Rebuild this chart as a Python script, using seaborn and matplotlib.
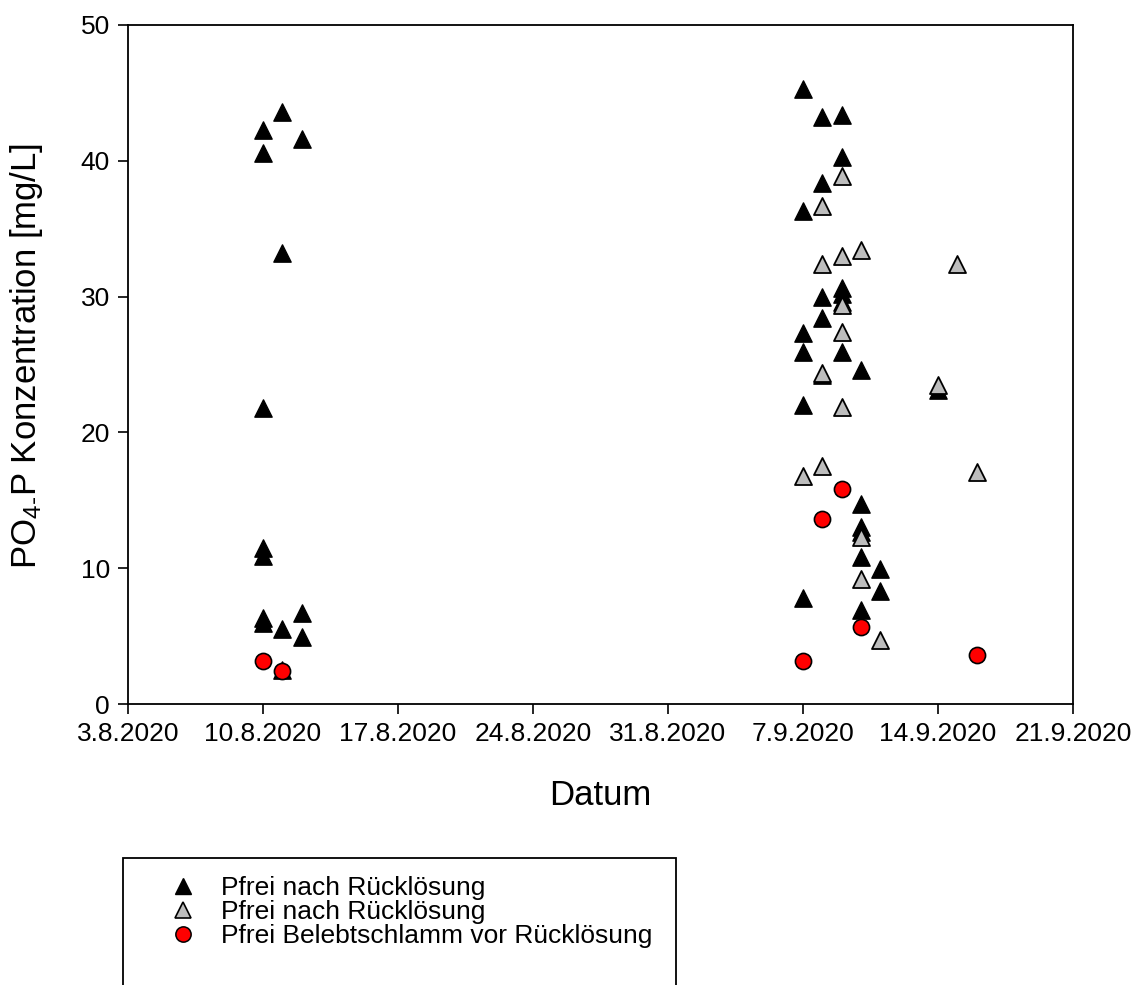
import matplotlib
matplotlib.use("Agg")
import matplotlib.pyplot as plt
from matplotlib.lines import Line2D
from matplotlib.patches import Rectangle
import pandas as pd
import seaborn as sns

# --- data -------------------------------------------------------------
black_dates = (["2020-08-10"] * 7 + ["2020-08-11"] * 4 + ["2020-08-12"] * 3 +
               ["2020-09-07"] * 6 + ["2020-09-08"] * 5 + ["2020-09-09"] * 6 +
               ["2020-09-10"] * 6 + ["2020-09-11"] * 2 + ["2020-09-14"])
black_values = [42.3, 40.6, 21.8, 11.5, 10.9, 6.3, 6.0,
                43.6, 33.2, 5.5, 2.5,
                41.6, 6.7, 4.9,
                45.3, 36.3, 27.3, 25.9, 22.0, 7.8,
                43.2, 38.4, 30.0, 28.4, 24.2,
                43.4, 40.3, 30.6, 30.2, 29.6, 25.9,
                24.6, 14.7, 13.0, 12.7, 10.8, 6.9,
                9.95, 8.3,
                23.1]

gray_dates = (["2020-09-07"] + ["2020-09-08"] * 4 + ["2020-09-09"] * 5 +
              ["2020-09-10"] * 3 + ["2020-09-11", "2020-09-14",
                                    "2020-09-15", "2020-09-16"])
gray_values = [16.8,
               36.7, 32.4, 24.4, 17.5,
               38.9, 33.0, 29.4, 27.4, 21.9,
               33.4, 12.3, 9.2,
               4.7, 23.5, 32.4, 17.1]

red_dates = ["2020-08-10", "2020-08-11", "2020-09-07", "2020-09-08",
             "2020-09-09", "2020-09-10", "2020-09-16"]
red_values = [3.2, 2.4, 3.2, 13.6, 15.8, 5.7, 3.6]

series_labels = ["Pfrei nach Rücklösung",
                 "Pfrei nach Rücklösung",
                 "Pfrei Belebtschlamm vor Rücklösung"]

tick_dates = ["2020-08-03", "2020-08-10", "2020-08-17", "2020-08-24",
              "2020-08-31", "2020-09-07", "2020-09-14", "2020-09-21"]
tick_labels = ["3.8.2020", "10.8.2020", "17.8.2020", "24.8.2020",
               "31.8.2020", "7.9.2020", "14.9.2020", "21.9.2020"]
y_ticks = [0, 10, 20, 30, 40, 50]

# --- style ------------------------------------------------------------
sns.set_style("ticks")
plt.rcParams["font.family"] = ["Liberation Sans", "DejaVu Sans"]
plt.rcParams["mathtext.fontset"] = "custom"
plt.rcParams["mathtext.rm"] = "Liberation Sans"
plt.rcParams["mathtext.it"] = "Liberation Sans:italic"
plt.rcParams["mathtext.bf"] = "Liberation Sans:bold"
plt.rcParams["text.color"] = "black"
plt.rcParams["axes.labelcolor"] = "black"

W, H = 1133, 985
fig = plt.figure(figsize=(W / 100, H / 100), dpi=100)
fig.patch.set_facecolor("white")

ax_l, ax_r, ax_t, ax_b = 128, 1073, 25, 704
ax = fig.add_axes([ax_l / W, (H - ax_b) / H, (ax_r - ax_l) / W, (ax_b - ax_t) / H])

black_df = pd.DataFrame({"Datum": pd.to_datetime(black_dates), "Wert": black_values})
gray_df = pd.DataFrame({"Datum": pd.to_datetime(gray_dates), "Wert": gray_values})
red_df = pd.DataFrame({"Datum": pd.to_datetime(red_dates), "Wert": red_values})

sns.scatterplot(data=black_df, x="Datum", y="Wert", marker="^", s=155,
                color="black", edgecolor="black", linewidth=1.0, ax=ax, zorder=3)
sns.scatterplot(data=gray_df, x="Datum", y="Wert", marker="^", s=150,
                color="#bdbdbd", edgecolor="black", linewidth=1.3, ax=ax, zorder=4)
sns.scatterplot(data=red_df, x="Datum", y="Wert", marker="o", s=135,
                color="#ff0000", edgecolor="black", linewidth=1.2, ax=ax, zorder=5)

# --- axes ---------------------------------------------------------------
tick_pos = pd.to_datetime(tick_dates)
ax.set_xlim(tick_pos[0], tick_pos[-1])
ax.set_xticks(tick_pos)
ax.set_xticklabels(tick_labels)
ax.set_ylim(0, 50)
ax.set_yticks(y_ticks)

for side in ["left", "right", "top", "bottom"]:
    ax.spines[side].set_visible(True)
    ax.spines[side].set_linewidth(1.3)
    ax.spines[side].set_color("black")
ax.tick_params(axis="both", which="both", direction="out", length=7, width=1.2,
               labelsize=19, top=False, right=False, colors="black", pad=6)
ax.grid(False)

ax.set_xlabel("Datum", fontsize=25, color="black")
ax.set_ylabel(r"PO$_{4\text{-}}$P Konzentration [mg/L]", fontsize=25,
              color="black")
ax.xaxis.set_label_coords(0.5, -0.11)
ax.yaxis.set_label_coords(-0.088, 0.512)

# --- legend ---------------------------------------------------------------
fig.add_artist(Rectangle((123 / W, -0.05), (676 - 123) / W, (H - 858) / H + 0.05,
                         transform=fig.transFigure, fill=False,
                         edgecolor="black", linewidth=1.3, clip_on=False))
handles = [
    Line2D([], [], linestyle="none", marker="^", markersize=12,
           markerfacecolor="black", markeredgecolor="black"),
    Line2D([], [], linestyle="none", marker="^", markersize=11,
           markerfacecolor="#bdbdbd", markeredgecolor="black", markeredgewidth=1.2),
    Line2D([], [], linestyle="none", marker="o", markersize=11,
           markerfacecolor="#ff0000", markeredgecolor="black", markeredgewidth=1.1),
]
fig.legend(handles, series_labels, loc="upper left",
           bbox_to_anchor=(170 / W, (H - 876) / H), frameon=False,
           fontsize=19, borderpad=0, borderaxespad=0, handlelength=1.0,
           handletextpad=0.95, labelspacing=0.0, labelcolor="black")

fig.savefig("out.png", dpi=100, facecolor="white")
